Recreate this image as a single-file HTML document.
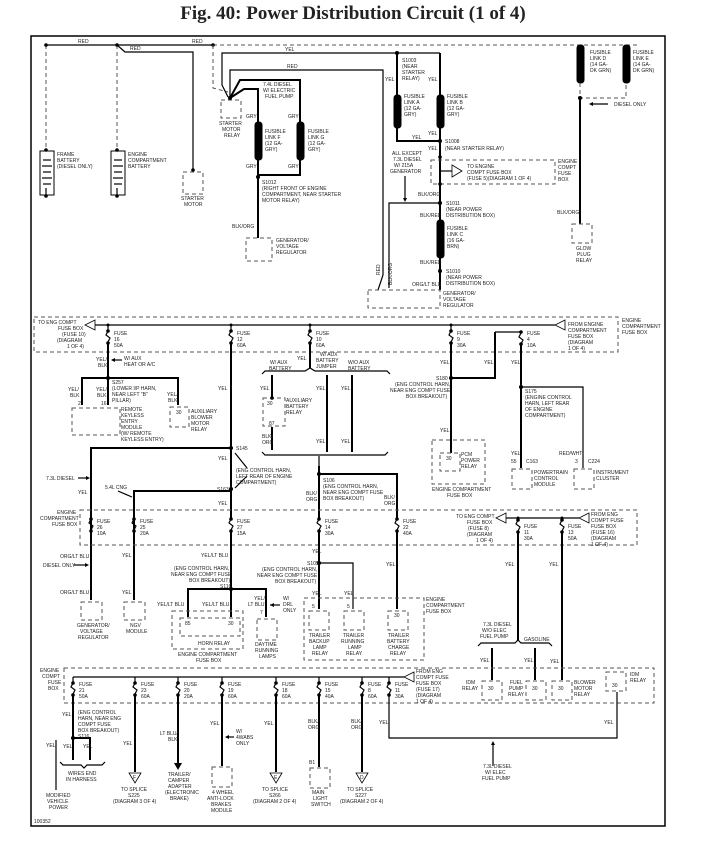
<!DOCTYPE html>
<html><head><meta charset="utf-8"><style>
html,body{margin:0;padding:0;background:#fff;}
svg{display:block}
.t{font-family:"Liberation Serif",serif;font-weight:bold;font-size:19px}
text{font-family:"Liberation Sans",sans-serif;font-size:5px;fill:#222}
.w{stroke:#000;stroke-width:2;fill:none}
.n{stroke:#000;stroke-width:1.2;fill:none}
.d{stroke:#555;stroke-width:1;stroke-dasharray:4,3;fill:none}
.fl{fill:#000;stroke:#000}
</style></head><body>
<svg width="706" height="849" viewBox="0 0 706 849" xmlns="http://www.w3.org/2000/svg">
<text class="t" x="353" y="19" text-anchor="middle">Fig. 40: Power Distribution Circuit (1 of 4)</text>
<rect x="31" y="36" width="634" height="790" fill="none" stroke="#000" stroke-width="1.5"/>

<!-- TOP SECTION -->
<line class="n" x1="46" y1="45" x2="213" y2="45"/>
<line class="d" x1="213" y1="45" x2="640" y2="45"/>
<text x="78" y="43">RED</text><text x="192" y="43">RED</text><text x="130" y="50">RED</text>
<line class="d" x1="46" y1="45" x2="46" y2="150"/>
<line class="d" x1="117" y1="45" x2="117" y2="150"/>
<polyline class="n" points="117,45 125,52 193,52 193,170"/>
<circle cx="46" cy="45" r="1.8"/><circle cx="117" cy="45" r="1.8"/><circle cx="213" cy="45" r="1.8"/><circle cx="193" cy="170" r="1.8"/>
<!-- batteries -->
<g>
<rect x="40" y="151" width="14" height="44" fill="none" stroke="#000"/>
<line class="n" x1="43" y1="160" x2="51" y2="160"/><line class="n" x1="42" y1="166" x2="52" y2="166" stroke-width="2"/>
<line class="n" x1="43" y1="172" x2="51" y2="172"/><line class="n" x1="42" y1="178" x2="52" y2="178" stroke-width="2"/>
<line class="n" x1="43" y1="184" x2="51" y2="184"/><line class="n" x1="46" y1="188" x2="46" y2="195"/>
<circle cx="46" cy="150" r="1.8"/><circle cx="46" cy="196" r="1.8"/>
<text x="57" y="156">FRAME</text><text x="57" y="162">BATTERY</text><text x="57" y="168">(DIESEL ONLY)</text>
</g>
<g>
<rect x="111" y="151" width="14" height="44" fill="none" stroke="#000"/>
<line class="n" x1="114" y1="160" x2="122" y2="160"/><line class="n" x1="113" y1="166" x2="123" y2="166" stroke-width="2"/>
<line class="n" x1="114" y1="172" x2="122" y2="172"/><line class="n" x1="113" y1="178" x2="123" y2="178" stroke-width="2"/>
<line class="n" x1="114" y1="184" x2="122" y2="184"/><line class="n" x1="117" y1="188" x2="117" y2="195"/>
<circle cx="117" cy="150" r="1.8"/><circle cx="117" cy="196" r="1.8"/>
<text x="128" y="156">ENGINE</text><text x="128" y="162">COMPARTMENT</text><text x="128" y="168">BATTERY</text>
</g>
<rect class="d" x="183" y="172" width="20" height="22"/>
<text x="181" y="200">STARTER</text><text x="184" y="206">MOTOR</text>
<!-- starter relay -->
<polyline class="d" points="213,45 213,88 228,92"/>
<rect class="d" x="221" y="100" width="20" height="18"/>
<text x="219" y="125">STARTER</text><text x="222" y="131">MOTOR</text><text x="224" y="137">RELAY</text>
<polyline class="n" points="228,97 222,85 222,53 440,53"/>
<text x="285" y="51">YEL</text>
<polyline class="n" points="230,97 230,70 383,70 383,275 378,290"/>
<text x="287" y="68">RED</text>
<polyline class="w" points="230,98 240,80 300,80 300,175 258,175"/>
<polyline class="w" points="230,98 244,89 258,89 258,238"/>
<circle cx="230" cy="98" r="2"/>
<text x="263" y="86">7.4L DIESEL</text><text x="263" y="92">W/ ELECTRIC</text><text x="265" y="98">FUEL PUMP</text>
<text x="246" y="118">GRY</text><text x="288" y="118">GRY</text><text x="246" y="168">GRY</text><text x="288" y="168">GRY</text>
<rect x="255" y="122" width="7" height="38" rx="3" class="fl"/>
<rect x="297" y="122" width="7" height="38" rx="3" class="fl"/>
<text x="265" y="133">FUSIBLE</text><text x="265" y="139">LINK F</text><text x="265" y="145">(12 GA-</text><text x="265" y="151">GRY)</text>
<text x="308" y="133">FUSIBLE</text><text x="308" y="139">LINK G</text><text x="308" y="145">(12 GA-</text><text x="308" y="151">GRY)</text>
<circle cx="258" cy="177" r="2"/>
<text x="262" y="184">S1012</text><text x="262" y="190">(RIGHT FRONT OF ENGINE</text><text x="262" y="196">COMPARTMENT, NEAR STARTER</text><text x="262" y="202">MOTOR RELAY)</text>
<text x="232" y="228">BLK/ORG</text>
<rect class="d" x="246" y="238" width="26" height="23"/>
<text x="276" y="242">GENERATOR/</text><text x="276" y="248">VOLTAGE</text><text x="276" y="254">REGULATOR</text>

<!-- fusible A,B -->
<circle cx="397" cy="53" r="2"/>
<polyline class="w" points="397,53 397,141 440,141"/>
<line class="w" x1="440" y1="53" x2="440" y2="290"/>
<rect x="394" y="95" width="7" height="33" rx="3" class="fl"/>
<rect x="437" y="95" width="7" height="33" rx="3" class="fl"/>
<text x="402" y="62">S1003</text><text x="402" y="68">(NEAR</text><text x="402" y="74">STARTER</text><text x="402" y="80">RELAY)</text>
<text x="385" y="81">YEL</text><text x="428" y="81">YEL</text>
<text x="404" y="98">FUSIBLE</text><text x="404" y="104">LINK A</text><text x="404" y="110">(12 GA-</text><text x="404" y="116">GRY)</text>
<text x="447" y="98">FUSIBLE</text><text x="447" y="104">LINK B</text><text x="447" y="110">(12 GA-</text><text x="447" y="116">GRY)</text>
<text x="428" y="135">YEL</text><text x="412" y="139">YEL</text>
<circle cx="440" cy="141" r="2"/>
<text x="445" y="143">S1008</text><text x="445" y="150">(NEAR STARTER RELAY)</text>
<text x="428" y="150">YEL</text>
<rect class="d" x="431" y="160" width="124" height="24"/>
<polygon points="452,165 462,171 452,177" fill="#fff" stroke="#000" stroke-width="0.8"/>
<line class="n" x1="440" y1="171" x2="452" y2="171"/>
<text x="467" y="168">TO ENGINE</text><text x="467" y="174">COMPT FUSE BOX</text><text x="467" y="180">(FUSE 5)(DIAGRAM 1 OF 4)</text>
<text x="558" y="163">ENGINE</text><text x="558" y="169">COMPT</text><text x="558" y="175">FUSE</text><text x="558" y="181">BOX</text>
<circle cx="440" cy="157" r="1.8"/><circle cx="440" cy="184" r="1.8"/>
<text x="392" y="155">ALL EXCEPT</text><text x="393" y="161">7.3L DIESEL</text><text x="394" y="167">W/ 215A</text><text x="390" y="173">GENERATOR</text>
<line class="n" x1="405" y1="176" x2="405" y2="199"/><polygon points="403,198 407,198 405,202"/>
<text x="418" y="196">BLK/ORG</text>
<polyline class="n" points="389,288 389,203 440,203"/>
<circle cx="440" cy="203" r="2"/>
<text x="446" y="205">S1011</text><text x="446" y="211">(NEAR POWER</text><text x="446" y="217">DISTRIBUTION BOX)</text>
<text x="420" y="217">BLK/RED</text>
<rect x="437" y="220" width="7" height="38" rx="3" class="fl"/>
<text x="447" y="230">FUSIBLE</text><text x="447" y="236">LINK C</text><text x="447" y="242">(16 GA-</text><text x="447" y="248">BRN)</text>
<text x="420" y="264">BLK/RED</text>
<circle cx="440" cy="271" r="2"/>
<text x="446" y="273">S1010</text><text x="446" y="279">(NEAR POWER</text><text x="446" y="285">DISTRIBUTION BOX)</text>
<text x="412" y="286">ORG/LT BLU</text>
<text x="380" y="275" transform="rotate(-90 380 275)">RED</text>
<text x="392" y="285" transform="rotate(-90 392 285)">BLK/ORG</text>
<rect class="d" x="368" y="290" width="72" height="18"/>
<text x="443" y="295">GENERATOR/</text><text x="443" y="301">VOLTAGE</text><text x="443" y="307">REGULATOR</text>
<!-- fusible D,E -->
<rect x="577" y="45" width="7" height="38" rx="3" class="fl"/>
<rect x="623" y="45" width="7" height="38" rx="3" class="fl"/>
<text x="590" y="54">FUSIBLE</text><text x="590" y="60">LINK D</text><text x="590" y="66">(14 GA-</text><text x="590" y="72">DK GRN)</text>
<text x="633" y="54">FUSIBLE</text><text x="633" y="60">LINK E</text><text x="633" y="66">(14 GA-</text><text x="633" y="72">DK GRN)</text>
<polyline class="d" points="580,83 580,98 626,98 626,83"/>
<circle cx="580" cy="98" r="2"/>
<line class="w" x1="580" y1="98" x2="580" y2="224"/>
<line class="n" x1="590" y1="104" x2="608" y2="104"/><polygon points="589,104 593,102 593,106"/>
<text x="614" y="106">DIESEL ONLY</text>
<text x="557" y="214">BLK/ORG</text>
<rect class="d" x="572" y="224" width="20" height="19"/>
<text x="576" y="250">GLOW</text><text x="577" y="256">PLUG</text><text x="576" y="262">RELAY</text>

<!-- FUSE BOX 1 -->
<rect class="d" x="34" y="317" width="584" height="35"/>
<text x="38" y="324">TO ENG COMPT</text><text x="58" y="330">FUSE BOX</text><text x="62" y="336">(FUSE 10)</text><text x="57" y="342">(DIAGRAM</text><text x="67" y="348">1 OF 4)</text>
<polygon points="85,325 95,320 95,330" fill="#fff" stroke="#000" stroke-width="0.8"/>
<line class="n" x1="95" y1="325" x2="555" y2="325"/>
<polygon points="565,320 555,325 565,330" fill="#fff" stroke="#000" stroke-width="0.8"/>
<text x="568" y="326">FROM ENGINE</text><text x="568" y="332">COMPARTMENT</text><text x="568" y="338">FUSE BOX</text><text x="568" y="344">(DIAGRAM</text><text x="568" y="350">1 OF 4)</text>
<text x="622" y="322">ENGINE</text><text x="622" y="328">COMPARTMENT</text><text x="622" y="334">FUSE BOX</text>
<g class="n">
<path d="M108 325V331l-2 4 4 3-2 4v1M231 325V331l-2 4 4 3-2 4v1M310 325V331l-2 4 4 3-2 4v1M451 325V331l-2 4 4 3-2 4v1M521 332V333l-2 4 4 3-2 4v1"/>
</g>
<line class="n" x1="495" y1="332" x2="521" y2="332"/>
<circle cx="108" cy="325" r="1.5"/><circle cx="231" cy="325" r="1.5"/><circle cx="310" cy="325" r="1.5"/><circle cx="451" cy="325" r="1.5"/>
<circle cx="108" cy="331" r="1.8"/><circle cx="108" cy="343" r="1.8"/><circle cx="231" cy="331" r="1.8"/><circle cx="231" cy="343" r="1.8"/>
<circle cx="310" cy="331" r="1.8"/><circle cx="310" cy="343" r="1.8"/><circle cx="451" cy="331" r="1.8"/><circle cx="451" cy="343" r="1.8"/>
<circle cx="521" cy="332" r="1.8"/><circle cx="521" cy="344" r="1.8"/>
<text x="114" y="335">FUSE</text><text x="114" y="341">16</text><text x="114" y="347">50A</text>
<text x="237" y="335">FUSE</text><text x="237" y="341">12</text><text x="237" y="347">60A</text>
<text x="316" y="335">FUSE</text><text x="316" y="341">10</text><text x="316" y="347">60A</text>
<text x="457" y="335">FUSE</text><text x="457" y="341">9</text><text x="457" y="347">30A</text>
<text x="527" y="335">FUSE</text><text x="527" y="341">4</text><text x="527" y="347">10A</text>
<!-- fuse16 branch -->
<line class="w" x1="108" y1="343" x2="108" y2="405"/>
<text x="96" y="361">YEL/</text><text x="98" y="367">BLK</text>
<line class="n" x1="112" y1="360" x2="122" y2="360"/><polygon points="111,360 115,358 115,362"/>
<text x="124" y="360">W/ AUX</text><text x="124" y="366">HEAT OR A/C</text>
<circle cx="108" cy="378" r="2"/>
<polyline class="w" points="82,405 82,378 178,378 178,405"/>
<text x="112" y="384">S257</text><text x="112" y="390">(LOWER I/P HARN,</text><text x="112" y="396">NEAR LEFT "B"</text><text x="112" y="402">PILLAR)</text>
<text x="68" y="391">YEL/</text><text x="70" y="397">BLK</text><text x="78" y="405">2</text>
<text x="96" y="391">YEL/</text><text x="97" y="397">BLK</text><text x="101" y="405">16</text>
<text x="167" y="396">YEL/</text><text x="168" y="402">BLK</text>
<rect class="d" x="72" y="408" width="48" height="27"/>
<text x="121" y="411">REMOTE</text><text x="121" y="417">KEYLESS</text><text x="121" y="423">ENTRY</text><text x="121" y="429">MODULE</text><text x="121" y="435">(W/ REMOTE</text><text x="121" y="441">KEYLESS ENTRY)</text>
<rect class="d" x="170" y="407" width="19" height="20"/>
<text x="176" y="414">30</text>
<text x="191" y="413">AUXILIARY</text><text x="191" y="419">BLOWER</text><text x="191" y="425">MOTOR</text><text x="191" y="431">RELAY</text>
<!-- fuse12 -->
<line class="w" x1="231" y1="343" x2="231" y2="519"/>
<text x="218" y="390">YEL</text>
<circle cx="231" cy="448" r="2"/><circle cx="231" cy="489" r="2"/>
<text x="236" y="450">S145</text><text x="218" y="460">YEL</text>
<line class="n" x1="247" y1="468" x2="235" y2="453"/>
<line class="n" x1="247" y1="476" x2="235" y2="488"/>
<text x="236" y="472">(ENG CONTROL HARN,</text><text x="236" y="478">LEFT REAR OF ENGINE</text><text x="236" y="484">COMPARTMENT)</text>
<text x="217" y="491">S163</text><text x="218" y="505">YEL</text>
<polyline class="w" points="231,448 91,448 91,600"/>
<polyline class="w" points="231,491 134,491 134,600"/>
<text x="46" y="480">7.3L DIESEL</text><line class="n" x1="78" y1="478" x2="88" y2="478"/><polygon points="90,478 86,476 86,480"/>
<text x="105" y="489">5.4L CNG</text><line class="n" x1="118" y1="491" x2="132" y2="497"/>
<text x="78" y="494">YEL</text>
<!-- fuse10 -->
<line class="w" x1="310" y1="343" x2="310" y2="368"/>
<path class="n" d="M262 374 l3 -3 h40 l5 -3 l5 3 h72 l3 3"/>
<text x="297" y="360">YEL</text>
<text x="320" y="356">W/ AUX</text><text x="316" y="362">BATTERY</text><text x="316" y="368">JUMPER</text>
<text x="270" y="364">W/ AUX</text><text x="269" y="370">BATTERY</text>
<text x="348" y="364">W/O AUX</text><text x="348" y="370">BATTERY</text>
<line class="w" x1="272" y1="375" x2="272" y2="397"/><line class="w" x1="272" y1="427" x2="272" y2="450"/>
<line class="w" x1="327" y1="375" x2="327" y2="452"/><line class="w" x1="352" y1="375" x2="352" y2="452"/>
<text x="260" y="390">YEL</text><text x="316" y="390">YEL</text><text x="341" y="390">YEL</text>
<text x="316" y="443">YEL</text><text x="341" y="443">YEL</text>
<rect class="d" x="263" y="398" width="22" height="28"/>
<circle cx="272" cy="398" r="1.8"/>
<text x="267" y="405">30</text><text x="269" y="425">87</text>
<text x="286" y="402">AUXILIARY</text><text x="286" y="408">BATTERY</text><text x="286" y="414">RELAY</text>
<text x="262" y="438">BLK/</text><text x="262" y="444">ORG</text>
<path class="n" d="M262 452 l3 3 h120 l3 -3"/>
<line class="n" x1="319" y1="456" x2="319" y2="466"/>
<polyline class="w" points="319,466 319,519"/>
<circle cx="319" cy="474" r="2"/>
<polyline class="w" points="319,474 397,474 397,519"/>
<text x="323" y="482">S106</text><text x="323" y="488">(ENG CONTROL HARN,</text><text x="323" y="494">NEAR ENG COMPT FUSE</text><text x="323" y="500">BOX BREAKOUT)</text>
<text x="306" y="495">BLK/</text><text x="306" y="501">ORG</text>
<text x="384" y="499">BLK/</text><text x="384" y="505">ORG</text>
<!-- fuse9 -->
<line class="w" x1="451" y1="343" x2="451" y2="453"/>
<polyline class="w" points="451,378 495,378 495,332"/>
<circle cx="451" cy="378" r="2"/>
<text x="440" y="364">YEL</text><text x="484" y="364">YEL</text>
<text x="436" y="380">S180</text>
<text x="395" y="386">(ENG CONTROL HARN,</text><text x="390" y="392">NEAR ENG COMPT FUSE</text><text x="406" y="398">BOX BREAKOUT)</text>
<text x="440" y="432">YEL</text>
<rect class="d" x="432" y="440" width="53" height="44"/>
<rect class="d" x="440" y="453" width="20" height="18"/>
<text x="446" y="460">30</text>
<text x="461" y="456">PCM</text><text x="461" y="462">POWER</text><text x="461" y="468">RELAY</text>
<text x="432" y="491">ENGINE COMPARTMENT</text><text x="447" y="497">FUSE BOX</text>
<!-- fuse4 -->
<line class="w" x1="521" y1="344" x2="521" y2="468"/>
<text x="511" y="364">YEL</text>
<circle cx="521" cy="387" r="2"/>
<polyline class="n" points="521,387 583,387 583,468"/>
<text x="525" y="393">S175</text><text x="525" y="399">(ENGINE CONTROL</text><text x="525" y="405">HARN, LEFT REAR</text><text x="525" y="411">OF ENGINE</text><text x="525" y="417">COMPARTMENT)</text>
<text x="511" y="455">YEL</text><text x="511" y="463">55</text><text x="526" y="463">C163</text>
<text x="559" y="455">RED/WHT</text><text x="575" y="463">3</text><text x="588" y="463">C224</text>
<rect class="d" x="512" y="469" width="20" height="20"/><rect class="d" x="574" y="469" width="20" height="20"/>
<text x="534" y="474">POWERTRAIN</text><text x="534" y="480">CONTROL</text><text x="534" y="486">MODULE</text>
<text x="596" y="474">INSTRUMENT</text><text x="596" y="480">CLUSTER</text>

<!-- FUSE BOX 2 -->
<path class="d" d="M80 510H637V545H80Z"/>
<text x="57" y="514">ENGINE</text><text x="40" y="520">COMPARTMENT</text><text x="52" y="526">FUSE BOX</text>
<g class="n"><path d="M91 512V519l-2 4 4 3-2 4v2M134 512V519l-2 4 4 3-2 4v2M231 512V519l-2 4 4 3-2 4v2M319 512V519l-2 4 4 3-2 4v2M397 512V519l-2 4 4 3-2 4v2M518 518V520l-2 4 4 3-2 4v2M562 518V520l-2 4 4 3-2 4v2"/></g>
<circle cx="91" cy="519" r="1.8"/><circle cx="91" cy="531" r="1.8"/><circle cx="134" cy="519" r="1.8"/><circle cx="134" cy="531" r="1.8"/>
<circle cx="231" cy="519" r="1.8"/><circle cx="231" cy="531" r="1.8"/><circle cx="319" cy="519" r="1.8"/><circle cx="319" cy="531" r="1.8"/>
<circle cx="397" cy="519" r="1.8"/><circle cx="397" cy="531" r="1.8"/><circle cx="518" cy="520" r="1.8"/><circle cx="518" cy="532" r="1.8"/>
<circle cx="562" cy="520" r="1.8"/><circle cx="562" cy="532" r="1.8"/>
<text x="97" y="523">FUSE</text><text x="97" y="529">26</text><text x="97" y="535">10A</text>
<text x="140" y="523">FUSE</text><text x="140" y="529">25</text><text x="140" y="535">20A</text>
<text x="237" y="523">FUSE</text><text x="237" y="529">27</text><text x="237" y="535">15A</text>
<text x="325" y="523">FUSE</text><text x="325" y="529">14</text><text x="325" y="535">30A</text>
<text x="403" y="523">FUSE</text><text x="403" y="529">22</text><text x="403" y="535">40A</text>
<text x="524" y="528">FUSE</text><text x="524" y="534">11</text><text x="524" y="540">30A</text>
<text x="568" y="528">FUSE</text><text x="568" y="534">13</text><text x="568" y="540">50A</text>
<text x="456" y="518">TO ENG COMPT</text><text x="467" y="524">FUSE BOX</text><text x="468" y="530">(FUSE 8)</text><text x="467" y="536">(DIAGRAM</text><text x="476" y="542">1 OF 4)</text>
<polygon points="496,518 506,513 506,523" fill="#fff" stroke="#000" stroke-width="0.8"/>
<line class="n" x1="506" y1="518" x2="579" y2="518"/><circle cx="518" cy="518" r="1.5"/><circle cx="562" cy="518" r="1.5"/>
<polygon points="589,513 579,518 589,523" fill="#fff" stroke="#000" stroke-width="0.8"/>
<text x="591" y="516">FROM ENG</text><text x="591" y="522">COMPT FUSE</text><text x="591" y="528">FUSE BOX</text><text x="591" y="534">(FUSE 16)</text><text x="591" y="540">(DIAGRAM</text><text x="591" y="546">1 OF 4)</text>
<!-- below box 2 -->
<text x="60" y="558">ORG/LT BLU</text><text x="43" y="567">DIESEL ONLY</text><line class="n" x1="74" y1="565" x2="86" y2="565"/><polygon points="89,565 85,563 85,567"/>
<text x="60" y="594">ORG/LT BLU</text>
<text x="122" y="557">YEL</text><text x="122" y="594">YEL</text>
<rect class="d" x="81" y="602" width="21" height="18"/><rect class="d" x="124" y="602" width="21" height="18"/>
<text x="77" y="627">GENERATOR/</text><text x="80" y="633">VOLTAGE</text><text x="78" y="639">REGULATOR</text>
<text x="130" y="627">NGV</text><text x="126" y="633">MODULE</text>
<line class="w" x1="231" y1="531" x2="231" y2="617"/>
<text x="201" y="557">YEL/LT BLU</text>
<text x="174" y="570">(ENG CONTROL HARN,</text><text x="171" y="576">NEAR ENG COMPT FUSE</text><text x="189" y="582">BOX BREAKOUT)</text><text x="220" y="588">S116</text>
<circle cx="231" cy="589" r="2"/>
<polyline class="w" points="188,617 188,589 266,589 266,617"/>
<text x="157" y="606">YEL/LT BLU</text><text x="202" y="606">YEL/LT BLU</text>
<text x="254" y="600">YEL/</text><text x="248" y="606">LT BLU</text><text x="260" y="614">7</text>
<line class="n" x1="270" y1="605" x2="280" y2="605"/><polygon points="270,605 274,603 274,607"/>
<text x="283" y="600">W/</text><text x="283" y="606">DRL</text><text x="283" y="612">ONLY</text>
<rect class="d" x="172" y="611" width="71" height="38"/>
<rect class="d" x="180" y="618" width="60" height="18"/>
<text x="185" y="625">85</text><text x="228" y="625">30</text>
<text x="198" y="645">HORN RELAY</text>
<text x="178" y="656">ENGINE COMPARTMENT</text><text x="196" y="662">FUSE BOX</text>
<rect class="d" x="257" y="619" width="20" height="21"/>
<text x="255" y="646">DAYTIME</text><text x="255" y="652">RUNNING</text><text x="259" y="658">LAMPS</text>
<line class="w" x1="319" y1="531" x2="319" y2="609"/>
<text x="312" y="553">YEL</text>
<circle cx="319" cy="563" r="2"/>
<polyline class="n" points="319,563 353,563 353,609"/>
<text x="307" y="565">S105</text>
<text x="262" y="571">(ENG CONTROL HARN,</text><text x="257" y="577">NEAR ENG COMPT FUSE</text><text x="275" y="583">BOX BREAKOUT)</text>
<text x="312" y="595">YEL</text><text x="344" y="595">YEL</text>
<line class="w" x1="397" y1="531" x2="397" y2="609"/>
<text x="386" y="566">YEL</text>
<rect class="d" x="304" y="598" width="120" height="62"/>
<text x="426" y="601">ENGINE</text><text x="426" y="607">COMPARTMENT</text><text x="426" y="613">FUSE BOX</text>
<rect class="d" x="309" y="611" width="20" height="19"/><rect class="d" x="344" y="611" width="20" height="19"/><rect class="d" x="388" y="611" width="20" height="19"/>
<text x="312" y="608">5</text><text x="347" y="608">5</text><text x="394" y="617">30</text>
<text x="309" y="637">TRAILER</text><text x="309" y="643">BACKUP</text><text x="313" y="649">LAMP</text><text x="312" y="655">RELAY</text>
<text x="343" y="637">TRAILER</text><text x="341" y="643">RUNNING</text><text x="348" y="649">LAMP</text><text x="346" y="655">RELAY</text>
<text x="388" y="637">TRAILER</text><text x="387" y="643">BATTERY</text><text x="388" y="649">CHARGE</text><text x="390" y="655">RELAY</text>
<!-- right branch -->
<line class="w" x1="518" y1="532" x2="518" y2="640"/>
<line class="w" x1="562" y1="532" x2="562" y2="680"/>
<text x="505" y="566">YEL</text><text x="549" y="566">YEL</text>
<text x="483" y="626">7.3L DIESEL</text><text x="482" y="632">W/O ELEC</text><text x="480" y="638">FUEL PUMP</text>
<path class="n" d="M478 646 l3 -3 h34 l3 -3 l3 3 h28 l3 3"/>
<text x="524" y="641">GASOLINE</text>
<line class="w" x1="492" y1="648" x2="492" y2="680"/><line class="w" x1="535" y1="648" x2="535" y2="680"/>
<text x="480" y="662">YEL</text><text x="524" y="662">YEL</text><text x="550" y="663">YEL</text>

<!-- FUSE BOX 3 -->
<rect class="d" x="64" y="668" width="590" height="35"/>
<text x="40" y="672">ENGINE</text><text x="42" y="678">COMPT</text><text x="48" y="684">FUSE</text><text x="48" y="690">BOX</text>
<line class="n" x1="73" y1="677" x2="404" y2="677"/>
<polygon points="414,672 404,677 414,682" fill="#fff" stroke="#000" stroke-width="0.8"/>
<text x="416" y="673">FROM ENG</text><text x="416" y="679">COMPT FUSE</text><text x="416" y="685">FUSE BOX</text><text x="416" y="691">(FUSE 17)</text><text x="416" y="697">(DIAGRAM</text><text x="416" y="703">1 OF 4)</text>
<g class="n"><path d="M73 677V683l-2 4 4 3-2 4v1M135 677V683l-2 4 4 3-2 4v1M178 677V683l-2 4 4 3-2 4v1M222 677V683l-2 4 4 3-2 4v1M276 677V683l-2 4 4 3-2 4v1M319 677V683l-2 4 4 3-2 4v1M362 677V683l-2 4 4 3-2 4v1M389 677V683l-2 4 4 3-2 4v1"/></g>
<g>
<circle cx="73" cy="683" r="1.8"/><circle cx="73" cy="695" r="1.8"/><circle cx="135" cy="683" r="1.8"/><circle cx="135" cy="695" r="1.8"/>
<circle cx="178" cy="683" r="1.8"/><circle cx="178" cy="695" r="1.8"/><circle cx="222" cy="683" r="1.8"/><circle cx="222" cy="695" r="1.8"/>
<circle cx="276" cy="683" r="1.8"/><circle cx="276" cy="695" r="1.8"/><circle cx="319" cy="683" r="1.8"/><circle cx="319" cy="695" r="1.8"/>
<circle cx="362" cy="683" r="1.8"/><circle cx="362" cy="695" r="1.8"/><circle cx="389" cy="683" r="1.8"/><circle cx="389" cy="695" r="1.8"/>
</g>
<text x="79" y="686">FUSE</text><text x="79" y="692">21</text><text x="79" y="698">50A</text>
<text x="141" y="686">FUSE</text><text x="141" y="692">23</text><text x="141" y="698">60A</text>
<text x="184" y="686">FUSE</text><text x="184" y="692">20</text><text x="184" y="698">20A</text>
<text x="228" y="686">FUSE</text><text x="228" y="692">19</text><text x="228" y="698">60A</text>
<text x="282" y="686">FUSE</text><text x="282" y="692">18</text><text x="282" y="698">60A</text>
<text x="325" y="686">FUSE</text><text x="325" y="692">15</text><text x="325" y="698">40A</text>
<text x="368" y="686">FUSE</text><text x="368" y="692">8</text><text x="368" y="698">60A</text>
<text x="395" y="686">FUSE</text><text x="395" y="692">11</text><text x="395" y="698">30A</text>
<!-- relays in box3 -->
<rect class="d" x="482" y="681" width="20" height="19"/><text x="488" y="690">30</text>
<text x="466" y="684">IDM</text><text x="462" y="690">RELAY</text>
<rect class="d" x="526" y="681" width="20" height="19"/><text x="532" y="690">30</text>
<text x="510" y="684">FUEL</text><text x="509" y="690">PUMP</text><text x="508" y="696">RELAY</text>
<rect class="d" x="552" y="681" width="20" height="19"/><text x="558" y="690">30</text>
<text x="574" y="684">BLOWER</text><text x="574" y="690">MOTOR</text><text x="574" y="696">RELAY</text>
<rect class="d" x="606" y="672" width="20" height="19"/><text x="612" y="687">30</text>
<text x="630" y="676">IDM</text><text x="630" y="682">RELAY</text>
<!-- below box3 -->
<line class="w" x1="73" y1="695" x2="73" y2="760"/>
<circle cx="73" cy="738" r="2"/>
<polyline class="w" points="73,738 90,738 90,760"/>
<text x="62" y="716">YEL</text>
<text x="78" y="714">(ENG CONTROL</text><text x="78" y="720">HARN, NEAR ENG</text><text x="78" y="726">COMPT FUSE</text><text x="78" y="732">BOX BREAKOUT)</text><text x="78" y="738">S116</text>
<text x="46" y="747">YEL</text><text x="63" y="748">YEL</text><text x="83" y="748">YEL</text>
<line class="n" x1="56" y1="740" x2="56" y2="790"/>
<path class="n" d="M60 762 l3 3 h18 l3 3 l3 -3 h15 l3 -3"/>
<text x="68" y="775">WIRES END</text><text x="66" y="781">IN HARNESS</text>
<text x="46" y="797">MODIFIED</text><text x="47" y="803">VEHICLE</text><text x="49" y="809">POWER</text>
<line class="w" x1="135" y1="695" x2="135" y2="772"/>
<text x="123" y="745">YEL</text>
<polygon points="129,773 141,773 135,783" fill="#fff" stroke="#000" stroke-width="0.8"/><text x="133" y="779">F</text>
<text x="121" y="791">TO SPLICE</text><text x="128" y="797">S225</text><text x="113" y="803">(DIAGRAM 3 OF 4)</text>
<line class="w" x1="178" y1="695" x2="178" y2="765"/>
<polygon points="174,763 182,763 178,770"/>
<text x="160" y="735">LT BLU/</text><text x="168" y="741">BLK</text>
<text x="168" y="776">TRAILER/</text><text x="168" y="782">CAMPER</text><text x="168" y="788">ADAPTER</text><text x="165" y="794">(ELECTRONIC</text><text x="170" y="800">BRAKE)</text>
<line class="w" x1="222" y1="695" x2="222" y2="766"/>
<text x="210" y="725">YEL</text>
<line class="n" x1="226" y1="737" x2="234" y2="737"/><polygon points="225,737 229,735 229,739"/>
<text x="236" y="733">W/</text><text x="236" y="739">4WABS</text><text x="236" y="745">ONLY</text>
<rect class="d" x="212" y="767" width="20" height="20"/>
<text x="212" y="794">4 WHEEL</text><text x="207" y="800">ANTI-LOCK</text><text x="211" y="806">BRAKES</text><text x="211" y="812">MODULE</text>
<line class="w" x1="276" y1="695" x2="276" y2="772"/>
<text x="264" y="725">YEL</text>
<polygon points="270,773 282,773 276,783" fill="#fff" stroke="#000" stroke-width="0.8"/><text x="274" y="779">E</text>
<text x="262" y="791">TO SPLICE</text><text x="269" y="797">S266</text><text x="253" y="803">(DIAGRAM 2 OF 4)</text>
<line class="w" x1="319" y1="695" x2="319" y2="767"/>
<text x="308" y="723">BLK/</text><text x="308" y="729">ORG</text><text x="309" y="764">B1</text>
<rect class="d" x="310" y="768" width="20" height="20"/>
<text x="312" y="794">MAIN</text><text x="313" y="800">LIGHT</text><text x="311" y="806">SWITCH</text>
<line class="w" x1="362" y1="695" x2="362" y2="772"/>
<text x="351" y="723">BLK/</text><text x="351" y="729">ORG</text>
<polygon points="356,773 368,773 362,783" fill="#fff" stroke="#000" stroke-width="0.8"/><text x="360" y="779">D</text>
<text x="347" y="791">TO SPLICE</text><text x="355" y="797">S227</text><text x="340" y="803">(DIAGRAM 2 OF 4)</text>
<polyline class="n" points="389,695 389,738 617,738 617,692"/>
<text x="379" y="724">YEL</text><text x="604" y="724">YEL</text>
<line class="n" x1="493" y1="743" x2="493" y2="766"/><polygon points="491,745 495,745 493,741"/>
<text x="483" y="768">7.3L DIESEL</text><text x="485" y="774">W/ ELEC</text><text x="482" y="780">FUEL PUMP</text>
<text x="34" y="823">100352</text>
</svg>
</body></html>
